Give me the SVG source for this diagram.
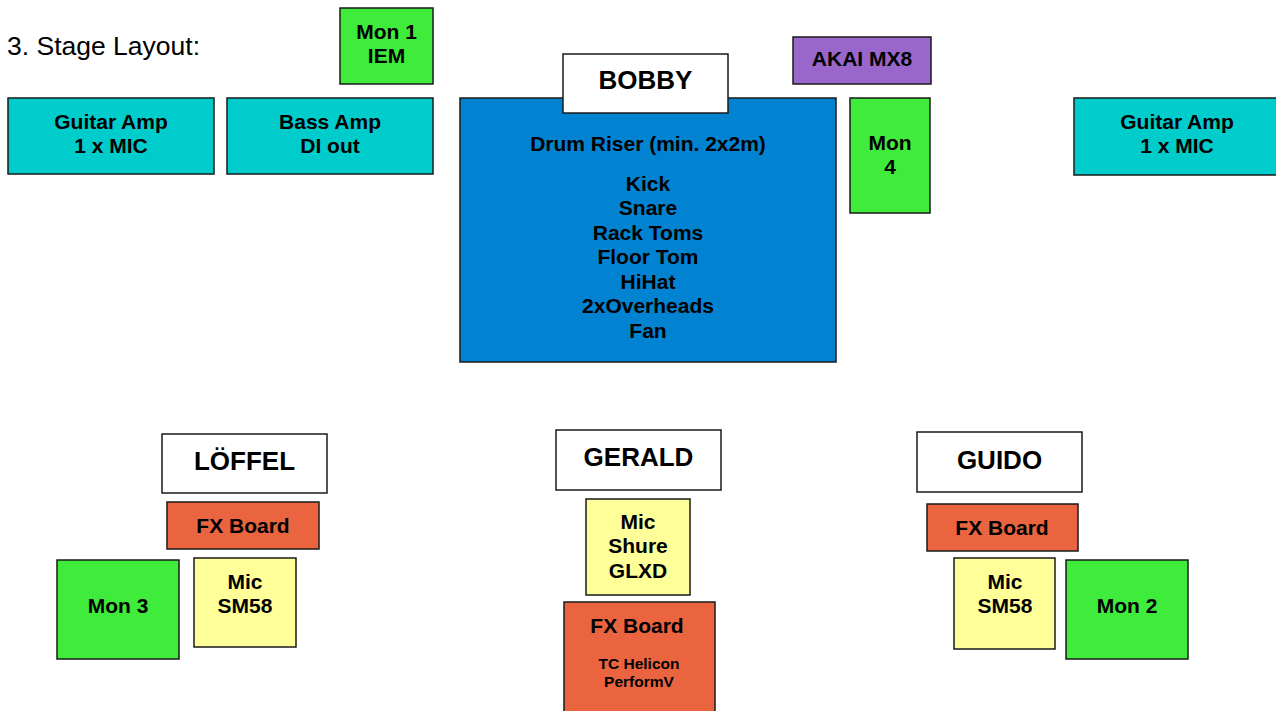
<svg xmlns="http://www.w3.org/2000/svg" width="1276" height="711" viewBox="0 0 1276 711">
<style>
.box{stroke:#1a1a1a;stroke-width:1.5}
text{font-family:"Liberation Sans",Arial,sans-serif;font-weight:bold;font-size:21px;fill:#000;text-anchor:middle}
.cyan{fill:#00CCCC}.green{fill:#3FEB3B}.yellow{fill:#FFFF99}.orange{fill:#EB6440}.purple{fill:#9966CC}.blue{fill:#0283D1}.white{fill:#fff}
.name{font-size:26px}
.small{font-size:15.5px}
.title{font-weight:normal;font-size:26.5px;text-anchor:start}
</style>
<rect width="1276" height="711" fill="#fff"/>
<text class="title" x="7" y="55">3. Stage Layout:</text>
<g id="guitar-amp-left"><rect class="box cyan" x="8" y="98" width="206" height="76"/><text x="111" y="129">Guitar Amp</text><text x="111" y="153">1 x MIC</text></g>
<g id="bass-amp"><rect class="box cyan" x="227" y="98" width="206" height="76"/><text x="330" y="129">Bass Amp</text><text x="330" y="153">DI out</text></g>
<g id="mon1"><rect class="box green" x="340" y="8" width="93" height="76"/><text x="386.5" y="39">Mon 1</text><text x="386.5" y="63">IEM</text></g>
<g id="drum-riser"><rect class="box blue" x="460" y="98" width="376" height="264"/>
<text x="648" y="151">Drum Riser (min. 2x2m)</text>
<text x="648" y="191">Kick</text><text x="648" y="215">Snare</text><text x="648" y="240">Rack Toms</text><text x="648" y="264">Floor Tom</text><text x="648" y="289">HiHat</text><text x="648" y="313">2xOverheads</text><text x="648" y="338">Fan</text></g>
<g id="bobby"><rect class="box white" x="563" y="54" width="165" height="59"/><text class="name" x="645.5" y="89">BOBBY</text></g>
<g id="akai"><rect class="box purple" x="793" y="37" width="138" height="47"/><text x="862" y="66">AKAI MX8</text></g>
<g id="mon4"><rect class="box green" x="850" y="98" width="80" height="115"/><text x="890" y="150">Mon</text><text x="890" y="174">4</text></g>
<g id="guitar-amp-right"><rect class="box cyan" x="1074" y="98" width="204" height="77"/><text x="1177" y="129">Guitar Amp</text><text x="1177" y="153">1 x MIC</text></g>
<g id="loeffel"><rect class="box white" x="162" y="434" width="165" height="59"/><text class="name" x="244.5" y="470">LÖFFEL</text></g>
<g id="fx-left"><rect class="box orange" x="167" y="502" width="152" height="47"/><text x="243" y="533">FX Board</text></g>
<g id="mon3"><rect class="box green" x="57" y="560" width="122" height="99"/><text x="118" y="613">Mon 3</text></g>
<g id="mic-left"><rect class="box yellow" x="194" y="558" width="102" height="89"/><text x="245" y="589">Mic</text><text x="245" y="613">SM58</text></g>
<g id="gerald"><rect class="box white" x="556" y="430" width="165" height="60"/><text class="name" x="638.5" y="466">GERALD</text></g>
<g id="mic-center"><rect class="box yellow" x="586" y="499" width="104" height="96"/><text x="638" y="529">Mic</text><text x="638" y="553">Shure</text><text x="638" y="578">GLXD</text></g>
<g id="fx-center"><rect class="box orange" x="564" y="602" width="151" height="112"/><text x="637" y="633">FX Board</text><text class="small" x="639" y="669">TC Helicon</text><text class="small" x="639" y="687">PerformV</text></g>
<g id="guido"><rect class="box white" x="917" y="432" width="165" height="60"/><text class="name" x="999.5" y="469">GUIDO</text></g>
<g id="fx-right"><rect class="box orange" x="927" y="504" width="151" height="47"/><text x="1002" y="535">FX Board</text></g>
<g id="mic-right"><rect class="box yellow" x="954" y="558" width="101" height="91"/><text x="1005" y="589">Mic</text><text x="1005" y="613">SM58</text></g>
<g id="mon2"><rect class="box green" x="1066" y="560" width="122" height="99"/><text x="1127" y="613">Mon 2</text></g>
<g id="connectors"></g>
</svg>
